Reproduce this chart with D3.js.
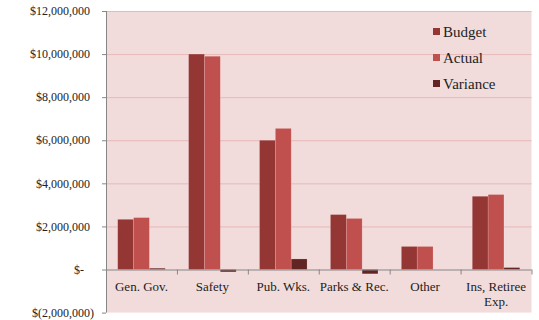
<!DOCTYPE html>
<html>
<head>
<meta charset="utf-8">
<style>
    body { margin: 0; background: #fff; }
    text { font-family: "Liberation Serif", "Times New Roman", Times, "DejaVu Serif", serif; }
</style>
</head>
<body>
<svg width="539" height="320"></svg>
<script src="https://d3js.org/d3.v7.min.js"></script>
<script>
    // chart data
    let categories = ["Gen. Gov.", "Safety", "Pub. Wks.", "Parks & Rec.", "Other", "Ins, Retiree Exp."]
    let budget = [2330000, 10000000, 6000000, 2550000, 1070000, 3400000]
    let actual = [2410000, 9900000, 6550000, 2370000, 1070000, 3480000]
    let variance = [60000, -110000, 490000, -200000, 0, 90000]
    let seriesNames = ["Budget", "Actual", "Variance"]
    let tickValues = [-2000000, 0, 2000000, 4000000, 6000000, 8000000, 10000000, 12000000]

    let colors = { Budget: "#943634", Actual: "#C0504D", Variance: "#632523" }

    let margin = { top: 11, left: 106, right: 7.5, bottom: 7.4 }
    let width = 539 - margin.left - margin.right
    let height = 320 - margin.top - margin.bottom

    let svg = d3.select("svg")
    let g = svg.append("g").attr("transform", `translate(${margin.left},${margin.top})`)

    // plot background
    g.append("rect")
        .attr("width", width).attr("height", height)
        .style("fill", "#F2DCDB")

    let y = d3.scaleLinear().domain([-2000000, 12000000]).range([height, 0])

    let x0 = d3.scaleBand().domain(categories).range([0, width]).padding(0)
    let pad = x0.bandwidth() * 0.165
    let x1 = d3.scaleBand().domain(seriesNames).range([pad, x0.bandwidth() - pad]).padding(0)

    // gridlines
    g.selectAll(".grid")
        .data(tickValues.filter(d => d !== 0 && d !== -2000000))
        .join("line")
        .attr("x1", 0).attr("x2", width)
        .attr("y1", d => y(d) + 0.5).attr("y2", d => y(d) + 0.5)
        .style("stroke", "#E6B9B8")
        .style("stroke-width", 1)

    let rows = categories.map((c, i) => ({
        cat: c,
        vals: [
            { key: "Budget", v: budget[i] },
            { key: "Actual", v: actual[i] },
            { key: "Variance", v: variance[i] }
        ]
    }))

    let groups = g.selectAll(".grp")
        .data(rows)
        .join("g")
        .attr("transform", d => `translate(${x0(d.cat)},0)`)

    groups.selectAll("rect")
        .data(d => d.vals.filter(v => v.v !== 0))
        .join("rect")
        .attr("x", d => x1(d.key))
        .attr("width", x1.bandwidth())
        .attr("y", d => y(Math.max(0, d.v)))
        .attr("height", d => Math.abs(y(d.v) - y(0)))
        .style("fill", d => colors[d.key])
        .style("stroke", "rgba(255,255,255,0.25)")
        .style("stroke-width", 0.6)

    // y axis
    let fmt = d => {
        if (d === 0) return "$-"
        let s = d3.format(",")(Math.abs(d))
        return d < 0 ? "$(" + s + ")" : "$" + s
    }
    g.append("line")
        .attr("x1", 0.5).attr("x2", 0.5).attr("y1", 0).attr("y2", height)
        .style("stroke", "#868686")
    g.selectAll(".ytick")
        .data(tickValues)
        .join("line")
        .attr("x1", -4).attr("x2", 0)
        .attr("y1", d => y(d) + 0.5).attr("y2", d => y(d) + 0.5)
        .style("stroke", "#868686")
    g.selectAll(".ylab")
        .data(tickValues)
        .join("text")
        .attr("x", d => d < 0 ? -12 : d === 0 ? -22 : -16)
        .attr("y", d => y(d))
        .attr("dy", "0.35em")
        .attr("text-anchor", "end")
        .style("font-size", "12px")
        .style("fill", "#222")
        .text(fmt)

    // x axis at zero
    g.append("line")
        .attr("x1", 0).attr("x2", width)
        .attr("y1", y(0) + 0.5).attr("y2", y(0) + 0.5)
        .style("stroke", "#868686")
    g.selectAll(".xtick")
        .data(categories.concat(["end"]))
        .join("line")
        .attr("x1", (d, i) => i * x0.step() + 0.5).attr("x2", (d, i) => i * x0.step() + 0.5)
        .attr("y1", y(0)).attr("y2", y(0) + 5)
        .style("stroke", "#868686")

    let xlab = g.selectAll(".xlab")
        .data(categories)
        .join("text")
        .attr("text-anchor", "middle")
        .attr("x", d => x0(d) + x0.bandwidth() / 2)
        .attr("y", y(0) + 21)
        .style("font-size", "13px")
        .style("fill", "#222")
    xlab.each(function (d) {
        let lines = d === "Ins, Retiree Exp." ? ["Ins, Retiree", "Exp."] : [d]
        d3.select(this).selectAll("tspan")
            .data(lines)
            .join("tspan")
            .attr("x", x0(d) + x0.bandwidth() / 2)
            .attr("dy", (l, i) => i === 0 ? 0 : 15)
            .text(l => l)
    })

    // legend
    let legend = svg.append("g").attr("transform", "translate(433,28)")
    let items = legend.selectAll("g")
        .data(seriesNames)
        .join("g")
        .attr("transform", (d, i) => `translate(0,${i * 26})`)
    items.append("rect")
        .attr("width", 7).attr("height", 7)
        .style("fill", d => colors[d])
    items.append("text")
        .attr("x", 10).attr("y", 3.5)
        .attr("dy", "0.35em")
        .style("font-size", "15px")
        .style("fill", "#222")
        .text(d => d)
</script>
</body>
</html>
